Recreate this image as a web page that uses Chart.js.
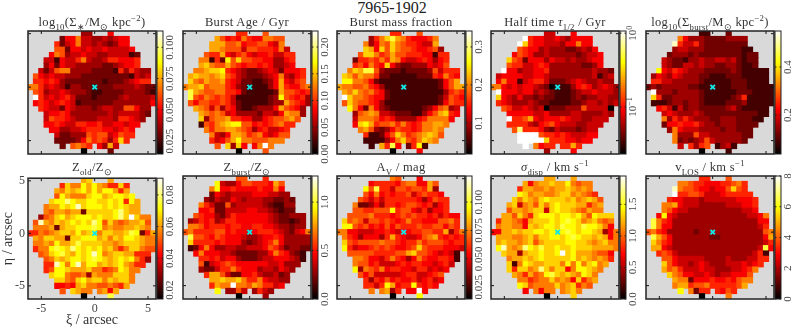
<!DOCTYPE html>
<html>
<head>
<meta charset="utf-8">
<title>7965-1902</title>
<script src="https://cdn.jsdelivr.net/npm/chart.js@4"></script>
<style>
  html, body { margin: 0; background: #fff; }
  #page { position: relative; width: 793px; height: 329px; overflow: hidden; font-family: "Liberation Serif", serif; color: #333; }
  canvas { position: absolute; }
  .title { position: absolute; width: 128px; text-align: center; white-space: nowrap; font-size: 12.5px; line-height: 15px; letter-spacing: 0.3px; }
  .title sub, .title sup { font-size: 0.7em; line-height: 0; }
  #suptitle { position: absolute; left: 342px; width: 100px; top: -1px; text-align: center; font-size: 16px; line-height: 17px; color: #222; }
</style>
</head>
<body>
<div id="page"><div id="suptitle">7965-1902</div></div>
<script>
// Map values. One string per row (top row first),
// one character per cell on a 0-f colour scale, "." means no cell.
const rowStart = [10, 6, 5, 5, 4, 3, 3, 2, 1, 1, 0, 1, 1, 1, 2, 3, 3, 3, 4, 5, 5, 6, 10];

const surfaceMass = ["33...5", "2558443343455", "62458443432355", "772554544544445", "58734454433444412", "441544684334665556", "352544333332234556", "424788333322221636433", "7545443332222222221434", "6656532222222122234566", "886454313322122233334322", "76344543332112222333321", "f6454564222122223433334", "56545654122222233333335", "654425433323443377533", "45565333333343444432", "4766543333444366543", "556544665564455455", "5533445666554565", "422333767745766", "222235867636a6", "2.7876.5394", "0....2"];
const burstAge = ["66...7", "9756586558877", "99977856677548", "998777477666584", "76695467545564466", "88162b7a7766553356", "9a8779765665653345", "889aab654322345425556", "9a9989a764322234584356", "a879889654221123595467", "899a78886532111135965578", "c9877886652111112977656", "c7687676411111123b76563", "75776676421111123397653", "987473652112333597653", "98787453333244359883", "a378896655335677897", "17689abb7756567866", "8688998763564456", "843599867854577", "64579b88777888", "7.a3a5.58f8", "0....7"];
const burstFraction = ["66...7", "368ac98655568", "83587a87665449", "a95a7a877655673", "7aa86797766655166", "266768698544565356", "675865a53223335457", "8a9cc7322212222374666", "a979886221111122265865", "bb88752111111111112579", "988778653111111111125799", "98a87865211111111113676", "fa887655211111111124765", "7a877653111111111125766", "b85285321111112357834", "37898443222113579a65", "4888756533335688885", "5ab967786865688998", "8973235766568898", "611257a86789a97", "1111358a768a98", "1.96c5.26b1", "0....5"];
const halfTime = ["44...5", "f655445435555", "fa655444355855", "765534333223435", "57653343333323445", "a76255535443433455", "766445653333332235", "f55344556333333334332", "4555544554333333334134", "5855145664222345433433", "885454554320111356534543", "f5554553432111234454443", "a5435332322111232334433", "65433343221111223443434", "764454340222333744440", "55555445333344333343", "f667954555654433444", "666643567544433444", "7d66653243332344", "ffff76656544455", "fffffa66655455", "f.8566.6696", "3....5"];
const surfaceBurst = ["11...2", "8533322223333", "e6446322222222", "344333222222211", "23332322222222122", "432213343344342122", "432244343322332112", "b54654333222223211111", "3543543332211122211111", "6644333332111112221111", "232333332211111122211111", "f3332333321111112221111", "a6223333321111123611111", "11123323321111222311111", "564142332222234211111", "45433343222222222211", "8364643332233322211", "255655643323332222", "3854443333233222", "833374433333322", "82323474333332", "4.6367.1341", "0....1"];
const zOld = ["9a...9", "6a88b9b9866a6", "98a9ab9b9bb969", "7b9888abb9abbab", "abbdbaabbaabab6b9", "899babeabbbababa99", "87998992aaaaabda99", "378ab9abbbabaabdafa88", "7e98a9ababadb7a87899a7", "888929aabbbcb898899a98", "668789aa9b9ab8aa99acb269", "98aa992aabbb9a8a9bba988", "8898b99acaaaa9989aaa988", "688bcbadbabab9a868aa877", "78abca9babeb89aa99666", "78a9abbabcba9abab863", "66eb8be9bb9a9ab9866", "67bba999a88678ba88", "abb877839888aaa8", "aa87ab9aa8a9aa8", "55659a88778769", "7.a988.8959", "0....c"];
const zBurst = ["77...6", "b433577666597", "8b556555565585", "254344445554433", "32433543444332232", "864227344444321133", "556224444554432122", "765532465555554322333", "3465634665555554322123", "8875666566556655433233", "786666775655456665432458", "c7765765554334556533333", "a6666565553234568533333", "12585334433444576423322", "585554432222335865321", "66564553222344555431", "7145676555555445333", "322466865553443543", "6997422556433423", "99a99a866854433", "6988f887986645", "b.3374.3643", "0....3"];
const extinction = ["87...5", "5666657885597", "b7c66477677693", "758565667467665", "76464666666535766", "822353665677656356", "7766777b6775463556", "777786665676766564655", "a787477676568665557786", "bb76756575766676677576", "885544455654556677669368", "86535553696544578965656", "a7677778776566867776566", "b6455676765567a76665554", "777776666779a77654541", "88755468653586556651", "8775644456566554564", "b38768566554664545", "7574444456644567", "636575655645645", "6646b9566b6565", "8.8936.55f5", "0....b"];
const sigmaDisp = ["99...9", "95899a99b8788", "699889899a9898", "ba899889aa89876", "a8a98abaaa9a89a97", "9a4897a8abaaa99689", "79989aa4abaa987988", "997a86abbbabbab97baaa", "6998759aaababcba89a878", "899885a9abbacbbacbba85", "5599a9aabbabbbcbabba9358", "999889a8aabbabcbaa9a958", "9a9989a79aaaabbaa989a88", "be989dbacaabaabaaa99998", "a9939aabaabfab9998775", "899a9abaaaaab9a98986", "a18ba99aaa8b8b8ab89", "a6aa89da8aa58bba98", "986978bca9a98ba8", "886788a8985a689", "ba78888a89a687", "5.8588.89a8", "0....a"];
const vLos = ["66...7", "8876655566786", "e8776554557a76", "f66776444566666", "65544434444445556", "889544433333444556", "875443333333333445", "5b5433333333333334458", "c865333333333333333355", "c855333333333333333346", "786533333233333333333378", "c9753333333223333333359", "a8653333333333333333346", "995433333333333333334c5", "676433333333333333461", "77544444333343334466", "a754434543334445456", "978644454433344568", "a875544543445557", "988255565565788", "89967786666679", "b.8266.6576", "0....8"];

const panelRows = [surfaceMass, burstAge, burstFraction, halfTime, surfaceBurst, zOld, zBurst, extinction, sigmaDisp, vLos];

const panelTitles = [
  'log<sub>10</sub>(Σ<sub>∗</sub>/M<sub>⊙</sub> kpc<sup>−2</sup>)',
  'Burst Age / Gyr',
  'Burst mass fraction',
  'Half time <i>τ</i><sub>1/2</sub> / Gyr',
  'log<sub>10</sub>(Σ<sub>burst</sub>/M<sub>⊙</sub> kpc<sup>−2</sup>)',
  'Z<sub>old</sub>/Z<sub>⊙</sub>',
  'Z<sub>burst</sub>/Z<sub>⊙</sub>',
  'A<sub>V</sub> / mag',
  '<i>σ</i><sub>disp</sub> / km s<sup>−1</sup>',
  'v<sub>LOS</sub> / km s<sup>−1</sup>'
];

// colour bar limits and ticks
const cbarMin = [0.0146, 0, 0.018, 0.023, 0.0375, 0.0144, 0, 0.0145, 0, 0];
const cbarMax = [0.113, 0.23, 0.342, 1.07, 0.55, 0.0905, 1.27, 0.123, 1.95, 8];
const cbarTicks = [
  [0.025, 0.05, 0.075, 0.1], [0, 0.05, 0.1, 0.15, 0.2], [0.1, 0.2, 0.3], [0.1, 1], [0.2, 0.4],
  [0.02, 0.04, 0.06, 0.08], [0, 0.5, 1], [0.025, 0.05, 0.075, 0.1], [0, 0.5, 1, 1.5], [0, 2, 4, 6, 8]
];
const cbarLabels = [
  ['0.025', '0.050', '0.075', '0.100'], ['0.00', '0.05', '0.10', '0.15', '0.20'], ['0.1', '0.2', '0.3'], ['10|−1', '10|0'], ['0.2', '0.4'],
  ['0.02', '0.04', '0.06', '0.08'], ['0.0', '0.5', '1.0'], ['0.025', '0.050', '0.075', '0.100'], ['0.0', '0.5', '1.0', '1.5'], ['0', '2', '4', '6', '8']
];
const logPanels = [3];

// layout of the grid
const columnLeft = [28, 183, 337, 491, 646];
const rowTop = [31, 176];
const panelWidth = 128;
const panelHeight = 123;
const marginLeft = 28, marginRight = 26, marginTop = 8, marginBottom = 30;

// same stops as matplotlib "hot"
function hot(t) {
    const clamp = v => Math.max(0, Math.min(1, v));
    const r = clamp(t / 0.365), g = clamp((t - 0.365) / 0.381), b = clamp((t - 0.746) / 0.254);
    return `rgb(${Math.round(r * 255)},${Math.round(g * 255)},${Math.round(b * 255)})`;
}

// turn the rows of one panel into points in arcsec
function cellsFrom(rows, vmin, vmax, isLog) {
    const cells = [];
    rows.forEach((row, j) => {
        [...row].forEach((ch, k) => {
            if (ch === '.') return;
            const n = parseInt(ch, 16);
            const level = n === 0 ? 0 : (n + 0.5) / 15.5;
            const value = isLog ? vmin * Math.pow(vmax / vmin, level) : vmin + level * (vmax - vmin);
            cells.push({ x: -6 + 0.5 * (rowStart[j] + k), y: 5 - 0.5 * j, v: value });
        });
    });
    return cells;
}

const panelFrame = {
    id: 'panelFrame',
    beforeDatasetsDraw(chart) {
        const a = chart.chartArea, ctx = chart.ctx;
        ctx.save();
        ctx.fillStyle = '#d9d9d9';
        ctx.fillRect(a.left, a.top, a.right - a.left, a.bottom - a.top);
        ctx.restore();
    },
    afterDraw(chart, args, opts) {
        const a = chart.chartArea, ctx = chart.ctx;
        ctx.save();
        // inward ticks on all four sides
        ctx.strokeStyle = '#111';
        ctx.lineWidth = 1;
        ctx.beginPath();
        chart.scales.x.ticks.forEach(t => {
            const px = chart.scales.x.getPixelForValue(t.value);
            ctx.moveTo(px, a.top); ctx.lineTo(px, a.top + 3);
            ctx.moveTo(px, a.bottom); ctx.lineTo(px, a.bottom - 3);
        });
        chart.scales.y.ticks.forEach(t => {
            const py = chart.scales.y.getPixelForValue(t.value);
            ctx.moveTo(a.left, py); ctx.lineTo(a.left + 3, py);
            ctx.moveTo(a.right, py); ctx.lineTo(a.right - 3, py);
        });
        ctx.stroke();
        ctx.strokeStyle = '#222';
        ctx.lineWidth = 1.5;
        ctx.strokeRect(a.left, a.top, a.right - a.left, a.bottom - a.top);

        // colour bar, next to the map
        const barLeft = a.right + 1, barWidth = 6;
        const grad = ctx.createLinearGradient(0, a.bottom, 0, a.top);
        grad.addColorStop(0, '#000');
        grad.addColorStop(0.365, '#f00');
        grad.addColorStop(0.746, '#ff0');
        grad.addColorStop(1, '#fff');
        ctx.fillStyle = grad;
        ctx.fillRect(barLeft, a.top, barWidth, a.bottom - a.top);
        ctx.lineWidth = 1;
        ctx.strokeRect(barLeft, a.top, barWidth, a.bottom - a.top);

        const cb = chart.scales.cb;
        ctx.fillStyle = '#444';
        opts.ticks.forEach((value, i) => {
            const py = cb.getPixelForValue(value);
            ctx.beginPath();
            ctx.moveTo(barLeft, py); ctx.lineTo(barLeft + 1.5, py);
            ctx.moveTo(barLeft + barWidth, py); ctx.lineTo(barLeft + barWidth - 1.5, py);
            ctx.stroke();
            const parts = opts.labels[i].split('|');
            ctx.save();
            ctx.translate(barLeft + barWidth + 7.5, py);
            ctx.rotate(-Math.PI / 2);
            ctx.textBaseline = 'middle';
            ctx.font = '11px "Liberation Serif"';
            if (parts.length === 1) {
                ctx.textAlign = 'center';
                ctx.fillText(parts[0], 0, 0);
            } else {
                // 10 with an exponent
                ctx.textAlign = 'left';
                const w = ctx.measureText(parts[0]).width;
                ctx.font = '8px "Liberation Serif"';
                const e = ctx.measureText(parts[1]).width;
                ctx.fillText(parts[1], (w - e) / 2, -4);
                ctx.font = '11px "Liberation Serif"';
                ctx.fillText(parts[0], -(w + e) / 2, 0);
            }
            ctx.restore();
        });
        ctx.restore();
    }
};

const page = document.getElementById('page');

panelRows.forEach((rows, i) => {
    const col = i % 5, row = Math.floor(i / 5);
    const showAxes = i === 5;
    const isLog = logPanels.includes(i);

    const canvas = document.createElement('canvas');
    canvas.width = marginLeft + panelWidth + marginRight;
    canvas.height = marginTop + panelHeight + marginBottom;
    canvas.style.left = (columnLeft[col] - marginLeft) + 'px';
    canvas.style.top = (rowTop[row] - marginTop) + 'px';
    page.appendChild(canvas);

    const title = document.createElement('div');
    title.className = 'title';
    title.innerHTML = panelTitles[i];
    title.style.left = columnLeft[col] + 'px';
    title.style.top = (rowTop[row] - 16) + 'px';
    page.appendChild(title);

    const cells = cellsFrom(rows, cbarMin[i], cbarMax[i], isLog);
    const norm = v => isLog
        ? Math.log(v / cbarMin[i]) / Math.log(cbarMax[i] / cbarMin[i])
        : (v - cbarMin[i]) / (cbarMax[i] - cbarMin[i]);

    new Chart(canvas, {
        type: 'scatter',
        data: {
            datasets: [
                {
                    // centre marker, first so it is painted on top
                    data: [{ x: 0, y: 0 }],
                    pointStyle: 'crossRot',
                    pointRadius: 3.2,
                    pointBorderWidth: 2,
                    pointBorderColor: '#12e6e6',
                    pointBackgroundColor: '#12e6e6'
                },
                {
                    data: cells,
                    pointStyle: 'rect',
                    pointRadius: 4.4,
                    pointBorderWidth: 0,
                    pointBackgroundColor: cells.map(c => hot(norm(c.v)))
                }
            ]
        },
        options: {
            responsive: false,
            animation: false,
            events: [],
            layout: { padding: { top: marginTop, right: marginRight, left: 0, bottom: 0 } },
            plugins: {
                legend: { display: false },
                tooltip: { enabled: false },
                panelFrame: { ticks: cbarTicks[i], labels: cbarLabels[i] }
            },
            scales: {
                x: {
                    type: 'linear', position: 'bottom', min: -6.25, max: 5.75,
                    grid: { display: false, drawTicks: false }, border: { display: false },
                    ticks: {
                        display: showAxes, stepSize: 5, includeBounds: false, maxRotation: 0, padding: 3,
                        color: '#444', font: { family: 'Liberation Serif', size: 12 }
                    },
                    title: {
                        display: showAxes, text: 'ξ / arcsec', color: '#333', padding: { top: 0, bottom: 0 },
                        font: { family: 'Liberation Serif', size: 14 }
                    },
                    afterFit(s) { s.height = marginBottom; }
                },
                y: {
                    type: 'linear', position: 'left', min: -6.25, max: 5.25,
                    grid: { display: false, drawTicks: false }, border: { display: false },
                    ticks: {
                        display: showAxes, stepSize: 5, includeBounds: false, padding: 3,
                        color: '#444', font: { family: 'Liberation Serif', size: 12 }
                    },
                    title: {
                        display: showAxes, text: 'η / arcsec', color: '#333', padding: { top: 0, bottom: 0 },
                        font: { family: 'Liberation Serif', size: 14 }
                    },
                    afterFit(s) { s.width = marginLeft; }
                },
                cb: {
                    type: isLog ? 'logarithmic' : 'linear', axis: 'y', position: 'right', display: false,
                    min: cbarMin[i], max: cbarMax[i]
                }
            }
        },
        plugins: [panelFrame]
    });
});
</script>
</body>
</html>
